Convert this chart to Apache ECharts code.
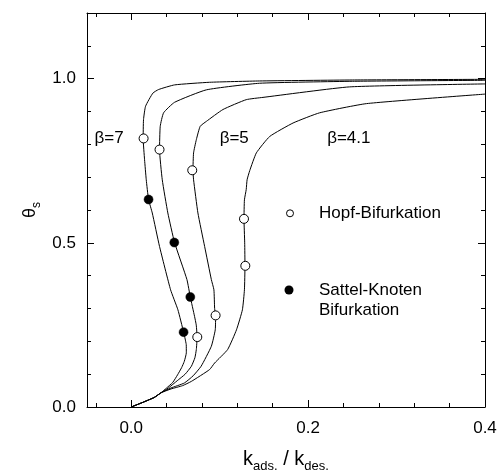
<!DOCTYPE html>
<html><head><meta charset="utf-8">
<script src="https://cdn.jsdelivr.net/npm/echarts@6/dist/echarts.min.js"></script>
<style>html,body{margin:0;padding:0;background:#fff}#c{width:504px;height:474px}</style>
</head><body><div id="c"></div>
<script>
// ---- data (x = k_ads./k_des., y = theta_s) ----
const curveBeta7 = [[0,0],[0.013,0.014],[0.026,0.029],[0.0335,0.043],[0.04,0.058],[0.047,0.075],[0.0524,0.098],[0.057,0.12],[0.060,0.139],[0.0623,0.165],[0.0622,0.19],[0.061,0.207],[0.0592,0.228],[0.0528,0.296],[0.0445,0.357],[0.032,0.489],[0.0238,0.591],[0.0196,0.632],[0.017,0.692],[0.0151,0.753],[0.0135,0.817],[0.0139,0.875],[0.0162,0.916],[0.0245,0.956],[0.031,0.967],[0.049,0.981],[0.0886,0.989],[0.145,0.993],[0.25,0.996],[0.4,0.998]];
const curveBeta6 = [[0,0],[0.013,0.014],[0.026,0.029],[0.0335,0.043],[0.042,0.058],[0.052,0.08],[0.061,0.10],[0.068,0.124],[0.072,0.15],[0.0736,0.175],[0.0745,0.213],[0.0735,0.25],[0.0716,0.276],[0.0668,0.335],[0.063,0.388],[0.049,0.501],[0.0414,0.591],[0.0351,0.692],[0.032,0.784],[0.0328,0.855],[0.0366,0.896],[0.049,0.928],[0.085,0.966],[0.145,0.986],[0.25,0.992],[0.4,0.995]];
const curveBeta5 = [[0,0],[0.013,0.014],[0.026,0.029],[0.0335,0.043],[0.045,0.058],[0.060,0.073],[0.07,0.095],[0.079,0.124],[0.0906,0.185],[0.095,0.235],[0.0954,0.279],[0.0943,0.30],[0.0935,0.357],[0.0906,0.388],[0.083,0.489],[0.0754,0.591],[0.0705,0.692],[0.0698,0.721],[0.0705,0.774],[0.0736,0.814],[0.078,0.855],[0.085,0.870],[0.1037,0.906],[0.130,0.936],[0.149,0.943],[0.247,0.975],[0.4,0.984]];
const curveBeta41 = [[0,0],[0.013,0.014],[0.026,0.029],[0.0335,0.043],[0.045,0.055],[0.058,0.065],[0.068,0.078],[0.0886,0.114],[0.0943,0.134],[0.109,0.175],[0.119,0.235],[0.1257,0.296],[0.128,0.357],[0.1286,0.43],[0.1283,0.50],[0.1275,0.573],[0.128,0.631],[0.130,0.662],[0.131,0.692],[0.134,0.72],[0.1415,0.774],[0.1566,0.824],[0.183,0.865],[0.213,0.896],[0.266,0.924],[0.4,0.953]];
const hopfPoints = [[0.014,0.818],[0.032,0.784],[0.069,0.721],[0.1275,0.573],[0.129,0.430],[0.0747,0.213],[0.0954,0.279]];
const sattelPoints = [[0.0196,0.632],[0.0487,0.501],[0.0668,0.335],[0.0592,0.228]];
const curveLabels = ['β=7', 'β=5', 'β=4.1'];
const curveLabelPos = [[-0.0415,0.817],[0.100,0.817],[0.2215,0.817]];
const xMajorTicks = [0, 0.2, 0.4];
const xMinorTicks = [-0.04,0.04,0.08,0.12,0.16,0.24,0.28,0.32,0.36];
const yMajorTicks = [0, 0.5, 1.0];
const yMinorTicks = [0.1,0.2,0.3,0.4,0.6,0.7,0.8,0.9,1.1];
const legendNames = ['Hopf-Bifurkation', 'Sattel-Knoten\nBifurkation'];

const FONT = '"Liberation Sans", Arial, sans-serif';
const X_MIN = -0.05, X_MAX = 0.4, Y_MIN = 0, Y_MAX = 1.2;

function xAx(pos, ticks, len, labels, line) {
  return {
    type: 'value', position: pos, min: X_MIN, max: X_MAX,
    axisLine: { show: line, onZero: false, lineStyle: { color: '#000', width: 1 } },
    axisTick: { show: true, inside: true, length: len, customValues: ticks, lineStyle: { color: '#000', width: 1 } },
    axisLabel: labels ? { show: true, customValues: ticks, margin: 13, color: '#000', fontSize: 17, fontFamily: FONT, formatter: v => v.toFixed(1) } : { show: false },
    splitLine: { show: false }
  };
}
function yAx(pos, ticks, len, labels, line) {
  return {
    type: 'value', position: pos, min: Y_MIN, max: Y_MAX,
    axisLine: { show: line, onZero: false, lineStyle: { color: '#000', width: 1 } },
    axisTick: { show: true, inside: true, length: len, customValues: ticks, lineStyle: { color: '#000', width: 1 } },
    axisLabel: labels ? { show: true, customValues: ticks, margin: 11, color: '#000', fontSize: 17, fontFamily: FONT, formatter: v => v.toFixed(1) } : { show: false },
    splitLine: { show: false }
  };
}

const xAxes = [
  xAx('bottom', xMajorTicks, 7, true, true),
  xAx('bottom', xMinorTicks, 4, false, false),
  xAx('top', xMajorTicks, 7, false, true),
  xAx('top', xMinorTicks, 4, false, false)
];
xAxes[0].name = '{a|k}{b|ads.}{a| / k}{b|des.}';
xAxes[0].nameLocation = 'middle';
xAxes[0].nameGap = 42;
xAxes[0].nameMoveOverlap = false;
xAxes[0].nameTextStyle = { color: '#000', fontFamily: FONT, rich: {
  a: { fontSize: 20, lineHeight: 20, verticalAlign: 'top', fontFamily: FONT, color: '#000' },
  b: { fontSize: 13, lineHeight: 13, verticalAlign: 'top', padding: [11, 0, 0, 0], fontFamily: FONT, color: '#000' }
}};
const yAxes = [
  yAx('left', yMajorTicks, 7, true, true),
  yAx('left', yMinorTicks, 4, false, false),
  yAx('right', yMajorTicks, 7, false, true),
  yAx('right', yMinorTicks, 4, false, false)
];

function curve(name, data) {
  return { name, type: 'line', data, xAxisIndex: 0, yAxisIndex: 0, showSymbol: false, smooth: 0.15,
    lineStyle: { color: '#000', width: 1 }, z: 2, animation: false };
}

const option = {
  backgroundColor: '#fff',
  animation: false,
  grid: { left: 87, right: 19, top: 13, bottom: 67, containLabel: false, outerBoundsMode: 'none' },
  xAxis: xAxes,
  yAxis: yAxes,
  series: [
    curve('β=7', curveBeta7),
    curve('β=6', curveBeta6),
    curve('β=5', curveBeta5),
    curve('β=4.1', curveBeta41),
    { name: legendNames[0], type: 'scatter', data: hopfPoints, symbol: 'circle', symbolSize: 9,
      itemStyle: { color: '#fff', borderColor: '#000', borderWidth: 1, opacity: 1 }, z: 5 },
    { name: legendNames[1], type: 'scatter', data: sattelPoints, symbol: 'circle', symbolSize: 9,
      itemStyle: { color: '#000', borderColor: '#000', borderWidth: 0.5, opacity: 1 }, z: 5 },
    { name: 'labels', type: 'scatter', symbolSize: 0, silent: true,
      itemStyle: { color: '#000', opacity: 1 },
      data: curveLabels.map((t, i) => ({ value: curveLabelPos[i], name: t })),
      label: { show: true, position: 'inside', align: 'left', verticalAlign: 'middle', formatter: p => p.name,
        fontSize: 17, fontFamily: FONT, color: '#000', opacity: 1, textBorderWidth: 0 }, z: 6 }
  ],
  graphic: [
    { type: 'text', x: 39, y: 210, rotation: Math.PI / 2,
      style: { text: '{a|θ}{b|s}', align: 'center', verticalAlign: 'bottom', fill: '#000',
        rich: {
          a: { fontSize: 18, lineHeight: 18, verticalAlign: 'top', fontFamily: FONT, fill: '#000' },
          b: { fontSize: 12, lineHeight: 12, verticalAlign: 'top', padding: [10, 0, 0, 0], fontFamily: FONT, fill: '#000' }
        } } },
    { type: 'circle', shape: { cx: 290, cy: 213.3, r: 3.5 }, style: { fill: '#fff', stroke: '#000', lineWidth: 1 } },
    { type: 'text', x: 319, y: 213.5, style: { text: legendNames[0], font: '17px ' + FONT, fill: '#000', verticalAlign: 'middle', align: 'left' } },
    { type: 'circle', shape: { cx: 289, cy: 290, r: 4.5 }, style: { fill: '#000' } },
    { type: 'text', x: 319, y: 280, style: { text: legendNames[1], font: '17px ' + FONT, fill: '#000', verticalAlign: 'top', align: 'left', lineHeight: 20 } }
  ]
};
const chart = echarts.init(document.getElementById('c'), null, { renderer: 'canvas' });
chart.setOption(option);
</script></body></html>
